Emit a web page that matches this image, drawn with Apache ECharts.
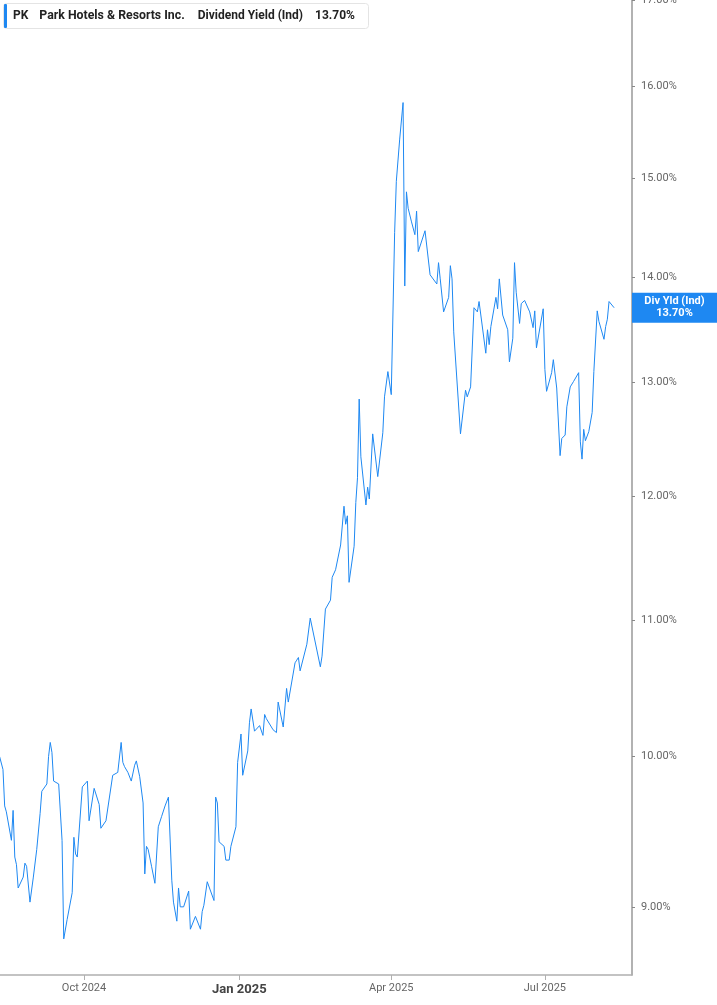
<!DOCTYPE html>
<html>
<head>
<meta charset="utf-8">
<title>PK Dividend Yield (Ind)</title>
<script src="https://cdn.jsdelivr.net/npm/echarts@6/dist/echarts.min.js"></script>
<style>
  html, body { margin: 0; padding: 0; background: #fff; }
  #chart { width: 717px; height: 1005px; }
</style>
</head>
<body>
<div id="chart"></div>
<script>
// PK - Park Hotels & Resorts Inc., indicated dividend yield (%)
// day numbers are calendar days counted from startDate
const startDate = '2024-08-01'
const dayNumbers = [
  11, 13, 14, 15, 18, 19, 20, 21, 22, 25, 26, 27, 29, 31, 33, 35, 36, 39, 40, 41,
  42, 43, 46, 48, 49, 51, 54, 55, 56, 57, 60, 61, 63, 64, 67, 70, 71, 74, 78, 81,
  83, 84, 85, 87, 89, 90, 91, 92, 94, 96, 97, 98, 99, 101, 103, 104, 105, 107, 109, 110,
  111, 113, 114, 116, 117, 118, 120, 123, 124, 125, 127, 130, 131, 132, 134, 138, 139, 140, 141, 144,
  145, 147, 148, 151, 152, 154, 155, 158, 159, 160, 162, 165, 166, 167, 168, 169, 173, 174, 175, 176,
  179, 181, 182, 183, 186, 187, 188, 189, 190, 193, 194, 195, 201, 202, 204, 207, 208, 210, 211, 213,
  215, 216, 217, 218, 221, 222, 223, 224, 225, 228, 229, 230, 232, 235, 238, 239, 241, 243, 245, 246,
  248, 250, 251, 252, 253, 255, 257, 258, 259, 263, 266, 270, 271, 272, 274, 277, 278, 279, 280, 281,
  284, 285, 287, 288, 290, 292, 294, 295, 299, 300, 301, 302, 305, 306, 307, 309, 312, 313, 315, 316,
  317, 319, 320, 322, 325, 327, 328, 329, 333, 334, 335, 338, 339, 341, 343, 344, 346, 347, 349, 351,
  354, 355, 356, 357, 358, 360, 362, 363, 365, 366, 369, 370, 371, 372, 375,
]
const yields = [
  10.00, 9.91, 9.66, 9.62, 9.43, 9.63, 9.32, 9.27, 9.12, 9.19, 9.28, 9.26, 9.03, 9.19, 9.37, 9.61, 9.76, 9.81, 10.00, 10.10,
  10.03, 9.83, 9.81, 9.43, 8.80, 8.92, 9.09, 9.45, 9.34, 9.32, 9.79, 9.78, 9.83, 9.56, 9.78, 9.67, 9.51, 9.56, 9.87, 9.89,
  10.10, 9.96, 9.93, 9.89, 9.83, 9.82, 9.94, 9.97, 9.86, 9.68, 9.21, 9.39, 9.37, 9.26, 9.15, 9.14, 9.52, 9.59, 9.66, 9.66,
  9.72, 9.17, 9.03, 8.91, 9.12, 9.00, 9.00, 9.10, 8.86, 8.86, 8.94, 8.86, 8.97, 9.01, 9.16, 9.04, 9.72, 9.68, 9.42, 9.39,
  9.30, 9.30, 9.39, 9.52, 9.96, 10.16, 9.87, 10.04, 10.24, 10.34, 10.18, 10.22, 10.21, 10.15, 10.30, 10.27, 10.19, 10.20, 10.17, 10.39,
  10.21, 10.49, 10.39, 10.39, 10.68, 10.70, 10.72, 10.62, 10.61, 10.82, 10.83, 11.02, 10.65, 10.73, 11.09, 11.16, 11.34, 11.40, 11.41, 11.60,
  11.92, 11.77, 11.84, 11.30, 11.59, 11.95, 12.16, 12.85, 12.34, 11.93, 12.08, 11.98, 12.54, 12.17, 12.55, 12.87, 13.10, 12.89, 14.44, 14.97,
  15.42, 15.82, 13.91, 14.86, 14.69, 14.55, 14.42, 14.66, 14.25, 14.46, 14.02, 13.93, 14.14, 13.98, 13.66, 13.80, 14.11, 13.98, 13.47, 13.48,
  12.54, 12.53, 12.93, 12.87, 12.96, 13.70, 13.66, 13.76, 13.27, 13.49, 13.35, 13.52, 13.80, 13.69, 13.98, 13.63, 13.49, 13.19, 13.41, 14.14,
  13.85, 13.55, 13.74, 13.77, 13.66, 13.51, 13.67, 13.32, 13.69, 13.12, 12.92, 13.09, 13.21, 12.95, 12.35, 12.50, 12.53, 12.78, 12.96, 13.01,
  13.09, 12.47, 12.32, 12.58, 12.48, 12.56, 12.73, 13.10, 13.67, 13.57, 13.40, 13.52, 13.59, 13.76, 13.70,
]
const yTicks = [9, 10, 11, 12, 13, 14, 15, 16, 17]
const xTicks = ['2024-10-01', '2025-01-01', '2025-04-01', '2025-07-01']
const lastYield = 13.70

const DAY = 86400000
const MONTHS = ['Jan', 'Feb', 'Mar', 'Apr', 'May', 'Jun', 'Jul', 'Aug', 'Sep', 'Oct', 'Nov', 'Dec']
const BLUE = '#1e88f2'

const startTs = Date.parse(startDate)
const seriesData = dayNumbers.map((d, i) => [startTs + d * DAY, yields[i]])
const xTickTs = xTicks.map((s) => Date.parse(s))

// month label, the year start gets the bold style
function formatMonth (ts) {
  const dt = new Date(ts)
  const txt = `${MONTHS[dt.getUTCMonth()]} ${dt.getUTCFullYear()}`
  return dt.getUTCMonth() === 0 ? `{yr|${txt}}` : txt
}

const chart = echarts.init(document.getElementById('chart'))
chart.setOption({
  animation: false,
  textStyle: { fontFamily: 'Roboto' },
  title: {
    left: 3,
    top: 3,
    padding: [1, 14, 1, 1],
    backgroundColor: '#fff',
    borderColor: '#e4e4e4',
    borderWidth: 1,
    borderRadius: 3,
    text: '{bar|}{pk|PK}{name|Park Hotels & Resorts Inc.}{lbl|Dividend Yield (Ind)}{val|13.70%}',
    textStyle: {
      fontFamily: 'Roboto',
      rich: {
        bar: { width: 3, height: 24, backgroundColor: BLUE, borderRadius: 1, verticalAlign: 'middle' },
        pk: { fontSize: 12, fontWeight: 'bold', color: '#222', padding: [0, 11, 0, 6], verticalAlign: 'middle' },
        name: { fontSize: 12.3, fontWeight: 'bold', color: '#222', padding: [0, 13, 0, 0], verticalAlign: 'middle' },
        lbl: { fontSize: 12, color: '#222', padding: [0, 12, 0, 0], verticalAlign: 'middle' },
        val: { fontSize: 12, fontWeight: 'bold', color: '#222', verticalAlign: 'middle' },
      },
    },
  },
  // outerBoundsMode none: keep the plot edge-to-edge like the source, labels may be cut
  grid: { left: 0, right: 85, top: 0, bottom: 30, outerBoundsMode: 'none' },
  xAxis: {
    // dates as timestamps on a value axis so the four month ticks can be placed exactly
    type: 'value',
    min: startTs + 11.24 * DAY,
    max: startTs + 385.6 * DAY,
    axisLine: { lineStyle: { color: '#b0b0b0', width: 1.5 } },
    axisTick: { customValues: xTickTs, length: 5, lineStyle: { color: '#b0b0b0' } },
    axisLabel: {
      customValues: xTickTs,
      formatter: formatMonth,
      margin: 8,
      fontSize: 11,
      color: '#666',
      verticalAlign: 'top',
      rich: {
        yr: { fontSize: 13, fontWeight: 'bold', color: '#444' },
      },
    },
    splitLine: { show: false },
  },
  yAxis: {
    type: 'log',
    position: 'right',
    min: 8.58,
    max: 17,
    axisLine: { show: true, lineStyle: { color: '#999', width: 1.5 } },
    axisTick: { show: true, customValues: yTicks, length: 3, lineStyle: { color: '#888' } },
    axisLabel: {
      customValues: yTicks,
      formatter: (v) => `${v.toFixed(2)}%`,
      margin: 9,
      fontSize: 11,
      color: '#666',
    },
    splitLine: { show: false },
  },
  series: [{
    type: 'line',
    data: seriesData,
    showSymbol: false,
    clip: false,
    lineStyle: { color: BLUE, width: 1 },
    markLine: {
      silent: true,
      symbol: 'none',
      lineStyle: { color: 'rgba(0,0,0,0)', width: 1, type: 'solid' },
      data: [{ yAxis: lastYield }],
      label: {
        show: true,
        position: 'end',
        distance: 0,
        opacity: 1,
        backgroundColor: BLUE,
        padding: [3, 4],
        formatter: `{t|Div Yld (Ind)}\n{t|${lastYield.toFixed(2)}%}`,
        rich: {
          t: { width: 77, align: 'center', color: '#fff', fontWeight: 'bold', fontSize: 11, lineHeight: 12 },
        },
      },
    },
  }],
})
</script>
</body>
</html>
